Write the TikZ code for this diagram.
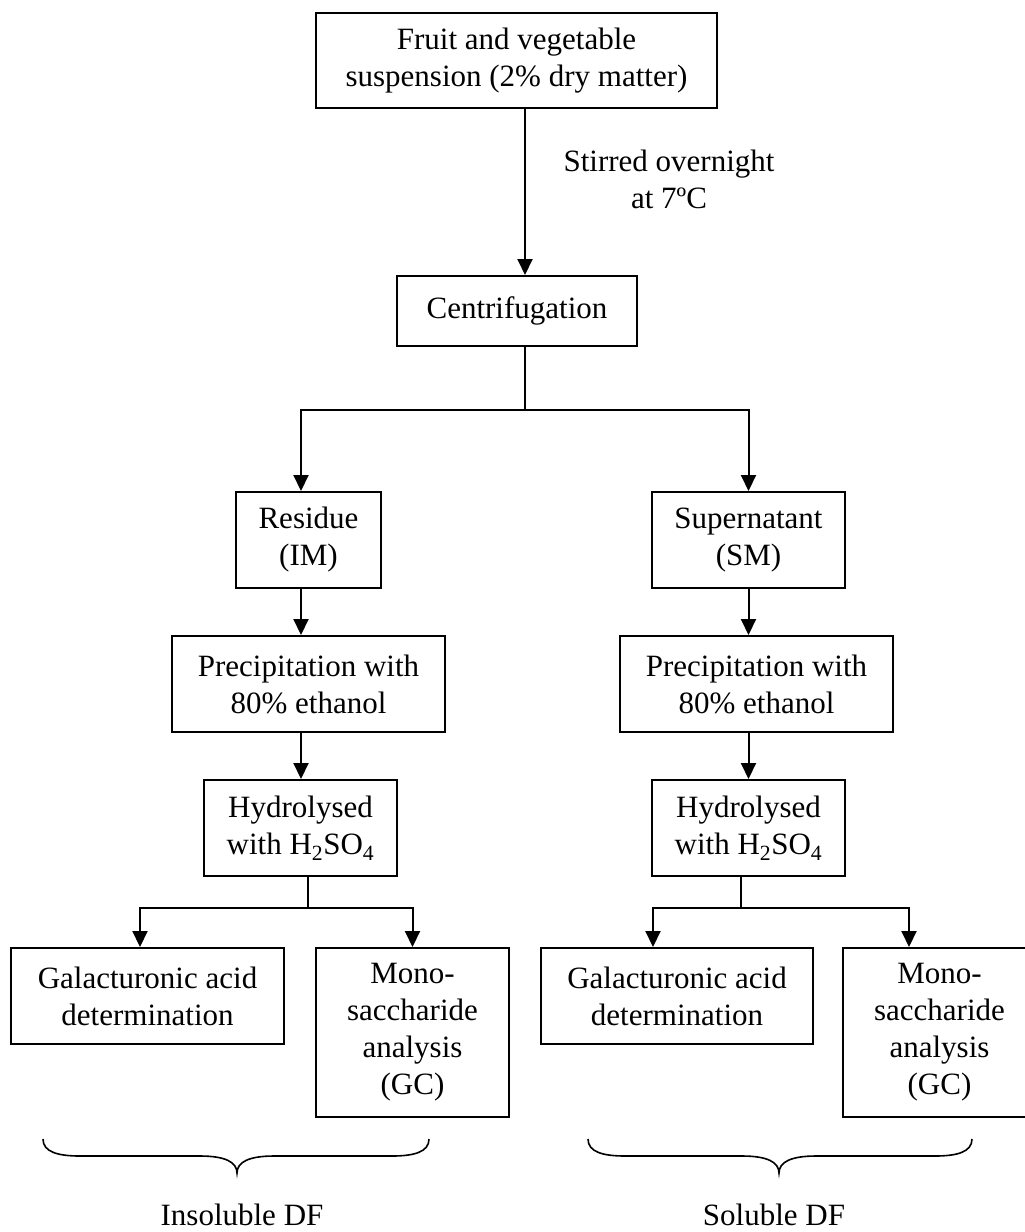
\documentclass[tikz,border=0pt]{standalone}
\usepackage{fontspec}
\setmainfont{Liberation Serif}
\usetikzlibrary{arrows.meta}
\begin{document}
\begin{tikzpicture}[x=1pt,y=-1pt,
  every node/.style={font=\fontsize{31}{37}\selectfont, inner sep=0pt, align=center},
  box/.style={draw, line width=2pt},
  arr/.style={line width=2pt, -{Triangle[width=15pt,length=16pt]}},
  ln/.style={line width=2pt}]
\useasboundingbox (0,0) rectangle (1025,1232);
\fill[white] (0,0) rectangle (1025,1232);
\clip (0,0) rectangle (1025,1232);

\node[box, minimum width=401pt, minimum height=95pt] (top) at (516.5,60.5) {Fruit and vegetable\\suspension (2\% dry matter)};
\node[box, minimum width=240pt, minimum height=70pt] (cent) at (517,311) {Centrifugation};
\node[align=center] (stir) at (669,179) {Stirred overnight\\at 7ºC};

\node[box, minimum width=145pt, minimum height=96pt] (res) at (308.5,540) {Residue\\(IM)};
\node[box, minimum width=193pt, minimum height=96pt] (sup) at (748.5,540) {Supernatant\\(SM)};

\node[box, minimum width=273pt, minimum height=96pt] (p1) at (308.5,684) {Precipitation with\\80\% ethanol};
\node[box, minimum width=273pt, minimum height=96pt] (p2) at (756.5,684) {Precipitation with\\80\% ethanol};

\node[box, minimum width=193pt, minimum height=96pt] (h1) at (300.5,828) {Hydrolysed\\with H\textsubscript{2}SO\textsubscript{4}};
\node[box, minimum width=193pt, minimum height=96pt] (h2) at (748.5,828) {Hydrolysed\\with H\textsubscript{2}SO\textsubscript{4}};

\node[box, minimum width=273pt, minimum height=96pt] (g1) at (147.5,996) {Galacturonic acid\\determination};
\node[box, minimum width=193pt, minimum height=169pt] (m1) at (412.5,1032.5) {Mono-\\saccharide\\analysis\\(GC)};
\node[box, minimum width=272pt, minimum height=96pt] (g2) at (677,996) {Galacturonic acid\\determination};
\node[box, minimum width=193pt, minimum height=169pt] (m2) at (939.5,1032.5) {Mono-\\saccharide\\analysis\\(GC)};

% connectors
\coordinate (t1) at ([xshift=8.5pt]top.south);
\draw[arr] (t1) -- (t1 |- cent.north);
\coordinate (b1) at (525,410);
\draw[ln] (b1 |- cent.south) -- (b1);
\draw[arr] (b1) -| ([xshift=-7.5pt]res.north);
\draw[arr] (b1) -| (sup.north);

\coordinate (r1) at ([xshift=-7.5pt]res.south);
\draw[arr] (r1) -- (r1 |- p1.north);
\draw[arr] (sup.south) -- (sup.south |- p2.north);
\draw[arr] (r1 |- p1.south) -- (r1 |- h1.north);
\draw[arr] (sup.south |- p2.south) -- (sup.south |- h2.north);

\coordinate (b2) at (308,908);
\draw[ln] (b2 |- h1.south) -- (b2);
\draw[arr] (b2) -| ([xshift=-7.5pt]g1.north);
\draw[arr] (b2) -| (m1.north);

\coordinate (b3) at (741,908);
\draw[ln] (b3 |- h2.south) -- (b3);
\draw[arr] (b3) -| ([xshift=-24pt]g2.north);
\draw[arr] (b3) -| ([xshift=-30.5pt]m2.north);

% braces
\draw[line width=1.6pt] (43,1139) .. controls (43,1152) and (58,1156) .. (80,1156)
  -- (200,1156) .. controls (225,1156) and (237,1162) .. (237,1173)
  .. controls (237,1162) and (249,1156) .. (274,1156)
  -- (392,1156) .. controls (414,1156) and (429,1152) .. (429,1139);
\draw[line width=1.6pt] (588,1139) .. controls (588,1152) and (603,1156) .. (625,1156)
  -- (742,1156) .. controls (767,1156) and (779,1162) .. (779,1173)
  .. controls (779,1162) and (791,1156) .. (816,1156)
  -- (935,1156) .. controls (957,1156) and (972,1152) .. (972,1139);

\node[anchor=base] (ins) at (242,1225) {Insoluble DF};
\node[anchor=base] (sol) at (774,1225) {Soluble DF};
\end{tikzpicture}
\end{document}
